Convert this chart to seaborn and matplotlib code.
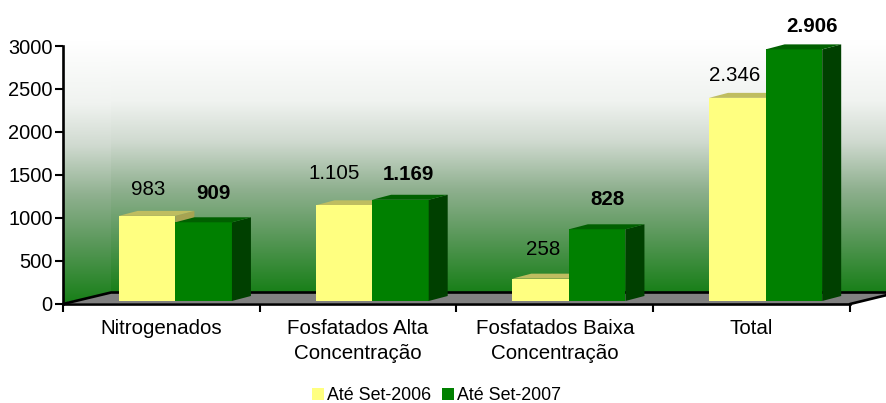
import numpy as np
import pandas as pd
import seaborn as sns
import matplotlib.pyplot as plt
from matplotlib.patches import Polygon
from matplotlib.colors import LinearSegmentedColormap

categories = ['Nitrogenados', 'Fosfatados Alta\nConcentração', 'Fosfatados Baixa\nConcentração', 'Total']
series_names = ['Até Set-2006', 'Até Set-2007']
vals_2006 = [983, 1105, 258, 2346]
vals_2007 = [909, 1169, 828, 2906]
labels_2006 = ['983', '1.105', '258', '2.346']
labels_2007 = ['909', '1.169', '828', '2.906']

# label offsets from the top/centre of each bar, pixels
off_2006 = [(1, 26), (-10, 32), (3, 29), (-3, 22)]
off_2007 = [(10, 29), (8, 25), (10, 30), (18, 23)]

W, H = 887, 403
YELLOW, GREEN = '#ffff80', '#008000'

sns.set_style('white')
plt.rcParams['font.family'] = ['Liberation Sans', 'DejaVu Sans']

fig = plt.figure(figsize=(W / 100, H / 100), dpi=100)

# background in pixel coords: walls and floor
bg = fig.add_axes([0, 0, 1, 1])
bg.axis('off')
grad = LinearSegmentedColormap.from_list('wall', [(0, '#ffffff'), (0.24, '#f0f3f0'), (0.4, '#d0dad0'),
                                                  (0.59, '#8fb08f'), (0.79, '#559655'), (1, '#187f18')])
g = np.linspace(0, 1, 256).reshape(-1, 1)
bg.imshow(g, cmap=grad, extent=(111, W, 293, 40), aspect='auto', zorder=1)
side = bg.imshow(g, cmap=grad, extent=(63, 111, 303, 40), aspect='auto', zorder=1)
clip = Polygon([(63, 303), (111, 293), (111, 40), (63, 40)], transform=bg.transData)
side.set_clip_path(clip)
bg.set_xlim(0, W)
bg.set_ylim(H, 0)
bg.add_patch(Polygon([(63, 303), (111, 293), (W, 293), (W, 295), (850, 304)], fc='#808080', ec='none', zorder=2))
bg.plot([63, 111, W], [304, 292.5, 292.5], color='black', lw=1.9, zorder=3)
bg.plot([850, W], [304, 295], color='black', lw=1.9, zorder=3)

# frame axes with the ticks
rect = [63 / W, 1 - 303.5 / H, (850 - 63) / W, (303.5 - 46) / H]
ax = fig.add_axes(rect)
ax.patch.set_alpha(0)
ax.set_xlim(-0.5, 3.5)
ax.set_ylim(0, 3000)

sns.despine(ax=ax, top=True, right=True)
for s in ['left', 'bottom']:
    ax.spines[s].set_linewidth(1.9)
    ax.spines[s].set_color('black')
ax.set_yticks(np.arange(0, 3001, 500))
ax.set_xticks(np.arange(4))
ax.set_xticklabels(categories, linespacing=1.4)
ax.set_xticks(np.arange(-0.5, 4, 1), minor=True)
ax.tick_params(axis='y', left=True, length=5.5, width=1.5, color='black', labelsize=14.4, pad=2, labelcolor='black')
ax.tick_params(axis='x', which='major', bottom=False, length=0, labelsize=14.8, pad=11, labelcolor='black')
ax.tick_params(axis='x', which='minor', bottom=True, length=5.5, width=1.5, color='black')

# bars sit on the floor, a bit in front of the frame, so they get their own y scale
bx = fig.add_axes(rect)
bx.patch.set_alpha(0)
df = pd.DataFrame({
    'categoria': categories * 2,
    'serie': [series_names[0]] * 4 + [series_names[1]] * 4,
    'valor': vals_2006 + vals_2007,
})
sns.barplot(data=df, x='categoria', y='valor', hue='serie', order=categories, hue_order=series_names,
            palette=[YELLOW, GREEN], width=0.575, gap=0, saturation=1, errorbar=None,
            linewidth=0, zorder=2, ax=bx)
bx.set_xlim(-0.5, 3.5)
bx.set_ylim(-29, 2945)
bx.axis('off')

shift = 14 / 196.75
dx = 19 / 196.75
dy = 5 / 0.0866
bars = [b for b in bx.patches if b.get_height() > 0]
for i, b in enumerate(bars):
    b.set_x(b.get_x() + shift)
    b.set_clip_on(False)
    x0, x1 = b.get_x(), b.get_x() + b.get_width()
    y0, y1 = b.get_y(), b.get_y() + b.get_height()
    yellow = i < 4
    z = 1 if yellow else 3
    bx.add_patch(Polygon([(x1, y0), (x1 + dx, y0 + dy), (x1 + dx, y1 + dy), (x1, y1)], clip_on=False,
                         fc='#a6a352' if yellow else '#004000', ec='none', zorder=z))
    bx.add_patch(Polygon([(x0, y1), (x0 + dx, y1 + dy), (x1 + dx, y1 + dy), (x1, y1)], clip_on=False,
                         fc='#bfbd60' if yellow else '#006000', ec='none', zorder=z))
    txt = (labels_2006 + labels_2007)[i]
    off = (off_2006 + off_2007)[i]
    bx.annotate(txt, ((x0 + x1) / 2, y1), xytext=(off[0] * 0.72, off[1] * 0.72), textcoords='offset points',
                ha='center', va='center', fontsize=14.8, color='black',
                fontweight='normal' if yellow else 'bold', annotation_clip=False, zorder=5)

handles, names = bx.get_legend_handles_labels()
bx.legend(handles, names, loc='center', bbox_to_anchor=(436.5 / W, 1 - 396 / H), bbox_transform=fig.transFigure,
          ncol=2, frameon=False, fontsize=12.9, handlelength=0.67, handleheight=0.67, handletextpad=0.15,
          columnspacing=0.6, borderpad=0, labelcolor='black')

fig.savefig('out.png', dpi=100)
